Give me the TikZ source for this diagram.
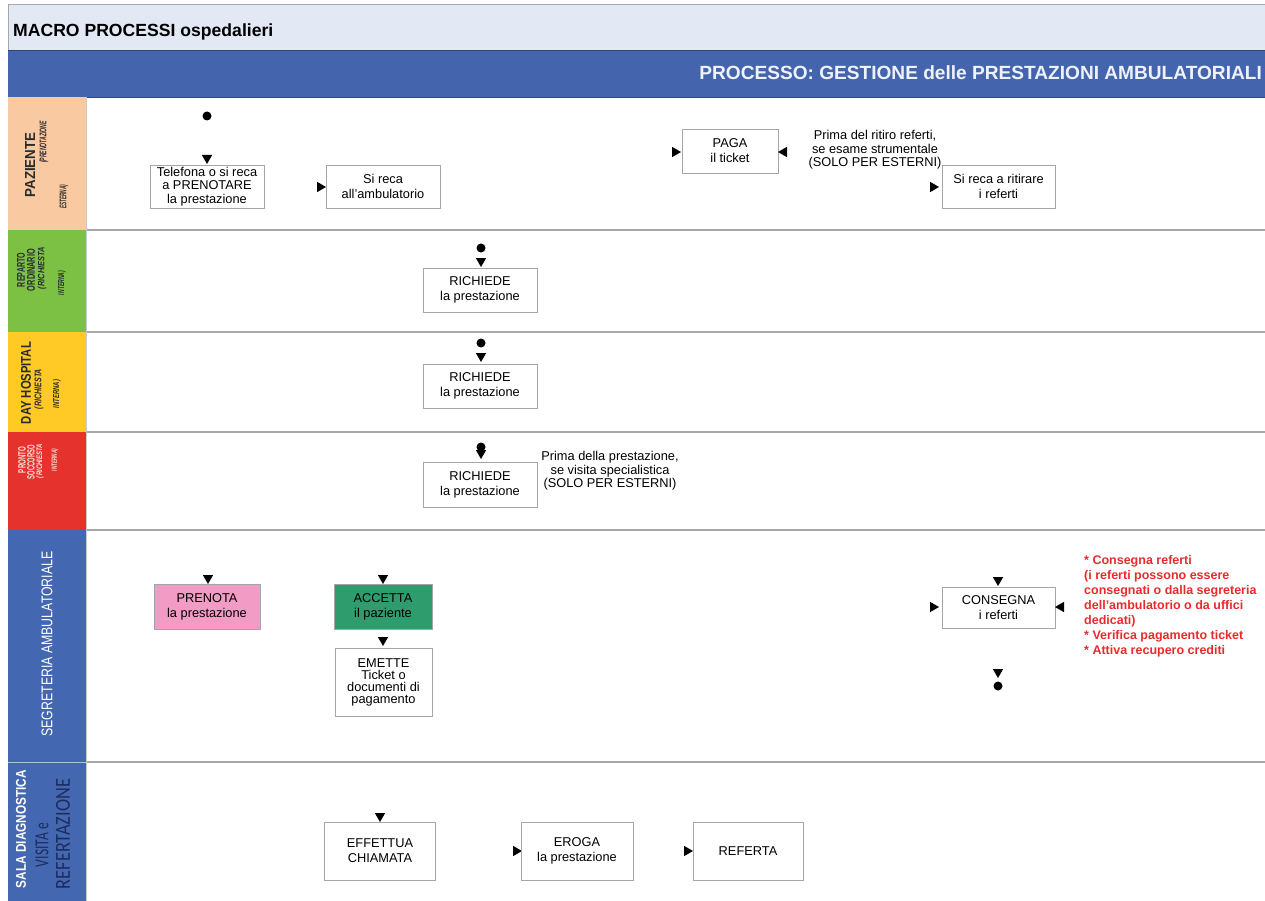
\documentclass[tikz,border=0pt]{standalone}
\usepackage{fontspec}
\setmainfont{Liberation Sans}
\newfontfamily\calibfont{Carlito}
\usepackage{graphicx}
\usetikzlibrary{shapes.geometric}

\definecolor{titlebar}{HTML}{E2E9F4}
\definecolor{bandblue}{HTML}{4464AE}
\definecolor{bandtext}{HTML}{EEF2FA}
\definecolor{lanepeach}{HTML}{F9C9A2}
\definecolor{lanegreen}{HTML}{7CC144}
\definecolor{laneyellow}{HTML}{FFC926}
\definecolor{lanered}{HTML}{E5322C}
\definecolor{laneblue}{HTML}{4467B1}
\definecolor{boxpink}{HTML}{F29BC5}
\definecolor{boxteal}{HTML}{2F9C6E}
\definecolor{alertred}{HTML}{E92A2C}
\definecolor{rulegray}{HTML}{A8A8A8}
\definecolor{boxline}{HTML}{A6A6A6}
\definecolor{labnavy}{HTML}{1D2C5E}
\definecolor{labdark}{HTML}{2B2B2B}
\definecolor{labpale}{HTML}{FBE3E0}

% squeeze a rotated lane caption into a given length and thickness
\newcommand\lbl[3]{\resizebox*{#1pt}{#2pt}{#3}}

\begin{document}
\begin{tikzpicture}[x=1pt,y=-1pt,
  box/.style={draw=boxline, line width=0.9pt, fill=white, align=center,
    inner sep=0pt, font=\fontsize{12.8}{15}\selectfont},
  startdot/.style={circle, fill=black, inner sep=0pt, minimum size=9pt},
  arrbase/.style={regular polygon, regular polygon sides=3, fill=black,
    inner sep=0pt, minimum size=12pt},
  arrdn/.style={arrbase, shape border rotate=180},
  arrrt/.style={arrbase, shape border rotate=-90},
  arrlt/.style={arrbase, shape border rotate=90},
  lanelab/.style={rotate=90, inner sep=0pt},
  note/.style={align=center, inner sep=0pt, font=\fontsize{12.8}{13.4}\selectfont},
]
\useasboundingbox (0,0) rectangle (1265,901);

% ---------- header ----------
\fill[titlebar] (8,5) rectangle (1265,50);
\draw[rulegray, line width=1pt] (8,50) -- (8,5) -- (1265,5);
\fill[bandblue] (8,50) rectangle (1265,97);
\draw[bandblue!70!black, line width=0.8pt] (8,50) -- (1265,50);
\draw[bandblue!70!black, line width=0.8pt] (8,97) -- (1265,97);
\node[anchor=west, inner sep=0pt, font=\bfseries\fontsize{17.6}{20}\selectfont]
  (title) at (13,32) {MACRO PROCESSI ospedalieri};
\node[anchor=east, inner sep=0pt, text=bandtext, font=\bfseries\fontsize{19.1}{20}\selectfont]
  (process) at (1262,73) {PROCESSO: GESTIONE delle PRESTAZIONI AMBULATORIALI};

% ---------- lane captions ----------
\fill[lanepeach]  (8,97)  rectangle (86,230);
\fill[lanegreen]  (8,230) rectangle (86,332);
\fill[laneyellow] (8,332) rectangle (86,432);
\fill[lanered]    (8,432) rectangle (86,530);
\fill[laneblue]   (8,530) rectangle (86,762);
\fill[laneblue]   (8,762) rectangle (86,901);
\draw[white!60!laneblue, line width=0.8pt] (8,762) -- (86,762);

% lane separators
\foreach \yy in {230,332,432,530,762}
  \draw[rulegray, line width=1.2pt] (86,\yy) -- (1265,\yy);
\draw[rulegray!60, line width=0.6pt] (86.5,97) -- (86.5,901);

% PAZIENTE
\node[lanelab, text=labdark] (lpaz1) at (30,165) {\lbl{65}{10}{\bfseries PAZIENTE}};
\node[lanelab, text=labdark] (lpaz2) at (44,142) {\lbl{42}{9}{\bfseries\itshape (PRENOTAZIONE}};
\node[lanelab, text=labdark] (lpaz3) at (64,197) {\lbl{24}{9}{\bfseries\itshape ESTERNA)}};
% REPARTO ORDINARIO
\node[lanelab, text=labdark] (lrep1) at (21,270) {\lbl{34}{8}{\bfseries REPARTO}};
\node[lanelab, text=labdark] (lrep2) at (31,270) {\lbl{42}{8}{\bfseries ORDINARIO}};
\node[lanelab, text=labdark] (lrep3) at (42,268) {\lbl{42}{8.5}{\bfseries\itshape (RICHIESTA}};
\node[lanelab, text=labdark] (lrep4) at (62,283) {\lbl{24}{8}{\bfseries\itshape INTERNA)}};
% DAY HOSPITAL
\node[lanelab, text=labdark] (lday1) at (26,383) {\lbl{82}{10}{\bfseries DAY HOSPITAL}};
\node[lanelab, text=labdark] (lday2) at (39,389) {\lbl{40}{9}{\bfseries\itshape (RICHIESTA}};
\node[lanelab, text=labdark] (lday3) at (57,394) {\lbl{28}{8}{\bfseries\itshape INTERNA)}};
% PRONTO SOCCORSO
\node[lanelab, text=labpale] (lps1) at (22,460) {\lbl{26}{7.5}{\bfseries PRONTO}};
\node[lanelab, text=labpale] (lps2) at (31,462) {\lbl{34}{7.5}{\bfseries SOCCORSO}};
\node[lanelab, text=labpale] (lps3) at (40,461) {\lbl{34}{7.5}{\bfseries\itshape (RICHIESTA}};
\node[lanelab, text=labpale] (lps4) at (55,460) {\lbl{22}{7}{\bfseries\itshape INTERNA)}};
% SEGRETERIA AMBULATORIALE
\node[lanelab, text=white] (lseg) at (47,644) {\lbl{185}{11}{SEGRETERIA AMBULATORIALE}};
% SALA DIAGNOSTICA
\node[lanelab, text=white] (lsala1) at (21,829) {\lbl{118}{10}{\bfseries SALA DIAGNOSTICA}};
\node[lanelab, text=labnavy] (lsala2) at (42,845) {\lbl{44}{13}{\calibfont VISITA e}};
\node[lanelab, text=labnavy] (lsala3) at (63,834) {\lbl{110}{14}{\calibfont REFERTAZIONE}};

% ---------- PAZIENTE lane ----------
\node[startdot] (pazstart) at (207,116) {};
\node[arrdn] (a1) at (207,158) {};
\node[box, minimum width=114pt, minimum height=43pt, font=\fontsize{12.8}{13.3}\selectfont]
  (telefona) at (207,186.5) {Telefona o si reca\\a PRENOTARE\\la prestazione};
\node[arrrt] (a2) at (320,187) {};
\node[box, minimum width=114pt, minimum height=43pt]
  (sireca) at (383,186.5) {Si reca\\all'ambulatorio};
\node[arrrt] (a3) at (675,152) {};
\node[box, minimum width=96pt, minimum height=44pt]
  (paga) at (730,151) {PAGA\\il ticket};
\node[arrlt] (a4) at (784,152) {};
\node[note] (notepaga) at (875,150)
  {Prima del ritiro referti,\\se esame strumentale\\(SOLO PER ESTERNI)};
\node[arrrt] (a5) at (933,187) {};
\node[box, minimum width=113pt, minimum height=43pt]
  (ritira) at (998.5,186.5) {Si reca a ritirare\\i referti};

% ---------- REPARTO ORDINARIO lane ----------
\node[startdot] (repstart) at (481,248) {};
\node[arrdn] (a6) at (481,261) {};
\node[box, minimum width=114pt, minimum height=44pt]
  (richrep) at (480,290) {RICHIEDE\\la prestazione};

% ---------- DAY HOSPITAL lane ----------
\node[startdot] (daystart) at (481,343) {};
\node[arrdn] (a7) at (481,356) {};
\node[box, minimum width=114pt, minimum height=44pt]
  (richday) at (480,386) {RICHIEDE\\la prestazione};

% ---------- PRONTO SOCCORSO lane ----------
\node[arrdn] (a8) at (481,453) {};
\node[startdot] (psstart) at (481,447) {};
\node[box, minimum width=114pt, minimum height=45pt]
  (richps) at (480,484.5) {RICHIEDE\\la prestazione};
\node[note, font=\fontsize{12.8}{13.6}\selectfont] (noteps) at (610,471)
  {Prima della prestazione,\\se visita specialistica\\(SOLO PER ESTERNI)};

% ---------- SEGRETERIA AMBULATORIALE lane ----------
\node[arrdn] (a9) at (208,578) {};
\node[box, fill=boxpink, minimum width=106pt, minimum height=45pt]
  (prenota) at (207,606.5) {PRENOTA\\la prestazione};
\node[arrdn] (a10) at (383,578) {};
\node[box, fill=boxteal, minimum width=98pt, minimum height=45pt]
  (accetta) at (383,606.5) {ACCETTA\\il paziente};
\node[arrdn] (a11) at (383,640) {};
\node[box, minimum width=97pt, minimum height=68pt, font=\fontsize{12.8}{12}\selectfont]
  (emette) at (383.5,682) {EMETTE\\Ticket o\\documenti di\\pagamento};
\node[arrdn] (a12) at (998,580) {};
\node[arrrt] (a13) at (933,607) {};
\node[box, minimum width=113pt, minimum height=41pt]
  (consegna) at (998.5,607.5) {CONSEGNA\\i referti};
\node[arrlt] (a14) at (1061,607) {};
\node[arrdn] (a15) at (998,672) {};
\node[startdot] (segend) at (998,686) {};
\node[anchor=north west, align=left, inner sep=0pt, text=alertred,
  font=\bfseries\fontsize{12.5}{15}\selectfont] (noteseg) at (1084,555)
  {* Consegna referti\\(i referti possono essere\\consegnati o dalla segreteria\\dell'ambulatorio o da uffici\\dedicati)\\* Verifica pagamento ticket\\* Attiva recupero crediti};

% ---------- SALA DIAGNOSTICA lane ----------
\node[arrdn] (a16) at (380,816) {};
\node[box, minimum width=111pt, minimum height=58pt]
  (effettua) at (380,851) {EFFETTUA\\CHIAMATA};
\node[arrrt] (a17) at (516,851) {};
\node[box, minimum width=112pt, minimum height=58pt]
  (eroga) at (577,851) {EROGA\\la prestazione};
\node[arrrt] (a18) at (687,851) {};
\node[box, minimum width=110pt, minimum height=58pt]
  (referta) at (748,851) {REFERTA};

\end{tikzpicture}
\end{document}
